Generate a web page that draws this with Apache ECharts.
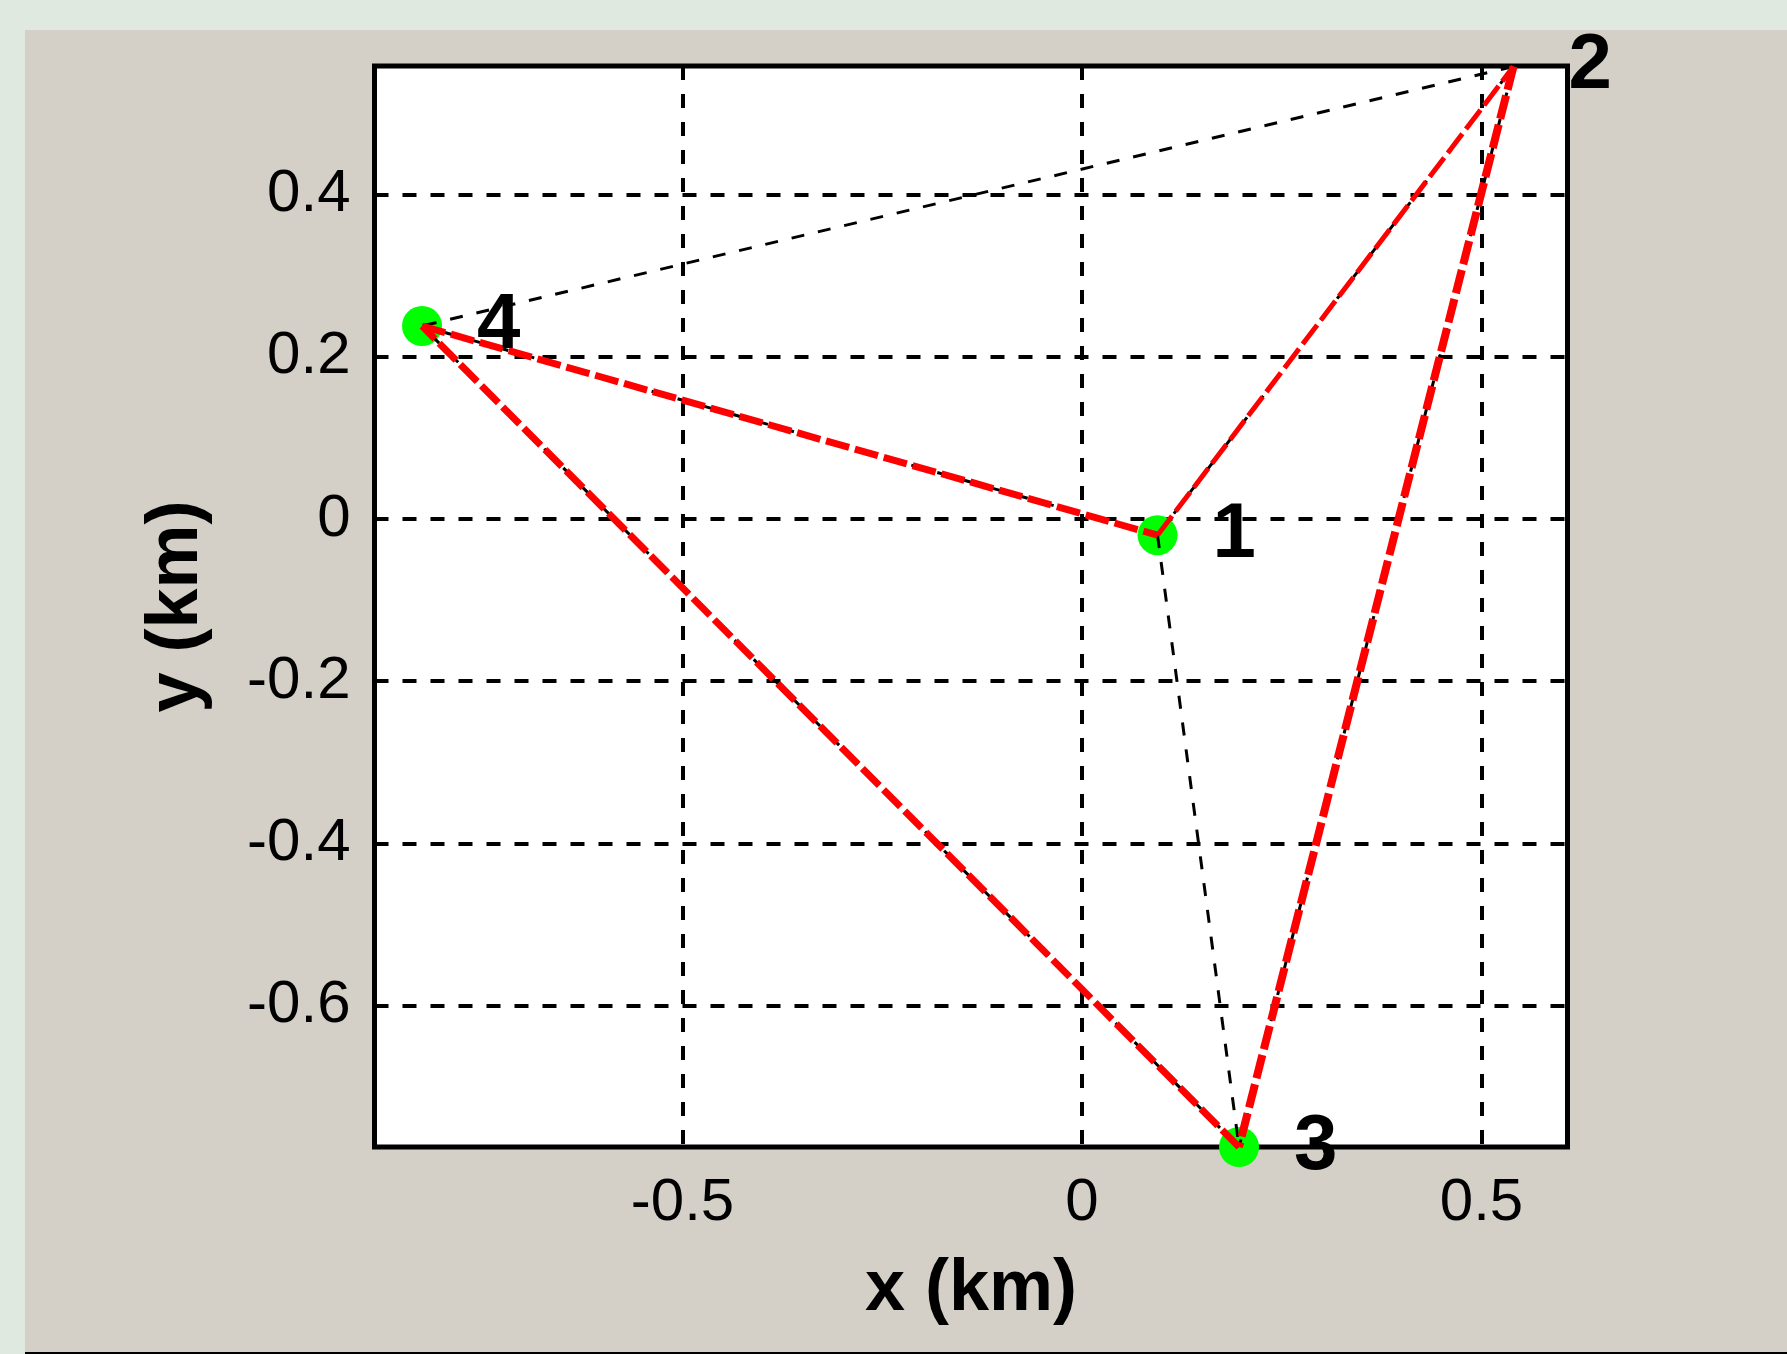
<!DOCTYPE html>
<html>
<head>
<meta charset="utf-8">
<script src="https://cdn.jsdelivr.net/npm/echarts@6/dist/echarts.min.js"></script>
<style>
  html, body { margin: 0; padding: 0; background: #dfe9e0; }
  #chart { width: 1787px; height: 1354px; }
</style>
</head>
<body>
<div id="chart"></div>
<script>
// ---- data ----
const pointNames = ['1', '2', '3', '4'];
const pointX = [0.0945, 0.540, 0.1965, -0.826];
const pointY = [-0.020, 0.558, -0.7744, 0.238];
const markedPoints = [0, 2, 3];               // points drawn with a green marker
const allEdges = [[0, 1], [0, 2], [0, 3], [1, 2], [1, 3], [2, 3]];
const redEdges = [[3, 0], [0, 1], [1, 2], [2, 3]];
const xTicks = [-0.5, 0, 0.5];
const yTicks = [-0.6, -0.4, -0.2, 0, 0.2, 0.4];
const xRange = [-0.8855, 0.6076];
const yRange = [-0.7744, 0.5586];
const xTitle = 'x (km)';
const yTitle = 'y (km)';

// ---- chart ----
const FONT = '"Liberation Sans", Arial, sans-serif';
const chart = echarts.init(document.getElementById('chart'), null, { renderer: 'canvas' });

function tickFormatter(ticks) {
  return function (v) {
    for (const t of ticks) if (Math.abs(t - v) < 1e-9) return String(t);
    return '';
  };
}

// line widths per red edge (4-1, 1-2, 2-3, 3-4)
const redWidth = { '3-0': 7, '0-1': 5, '1-2': 8, '2-3': 7 };

const series = [];
series.push({
  type: 'scatter',
  clip: false,
  symbol: 'circle',
  symbolSize: 40,
  itemStyle: { color: '#00ff00', opacity: 1 },
  data: markedPoints.map(i => [pointX[i], pointY[i]]),
  z: 2
});
allEdges.forEach(e => {
  series.push({
    type: 'line',
    clip: true,
    symbol: 'none',
    lineStyle: { color: '#000', width: 3, type: [13, 14] },
    data: [[pointX[e[0]], pointY[e[0]]], [pointX[e[1]], pointY[e[1]]]],
    z: 3
  });
});
redEdges.forEach(e => {
  series.push({
    type: 'line',
    clip: true,
    symbol: 'none',
    lineStyle: { color: '#ff0000', width: redWidth[e[0] + '-' + e[1]], type: [24, 6] },
    data: [[pointX[e[0]], pointY[e[0]]], [pointX[e[1]], pointY[e[1]]]],
    z: 4
  });
});
series.push({
  type: 'scatter',
  clip: false,
  symbol: 'circle',
  symbolSize: 0,
  itemStyle: { color: '#000000', opacity: 1 },
  label: {
    show: true,
    position: 'right',
    distance: 55,
    formatter: '{b}',
    color: '#000000',
    opacity: 1,
    textBorderWidth: 0,
    fontFamily: FONT,
    fontWeight: 'bold',
    fontSize: 78
  },
  data: pointNames.map((n, i) => ({ name: n, value: [pointX[i], pointY[i]] })),
  z: 5
});

const option = {
  backgroundColor: '#dfe9e0',
  animation: false,
  graphic: [
    { type: 'rect', z: -10, shape: { x: 25, y: 30, width: 1762, height: 1324 }, style: { fill: '#d4d0c8' } },
    { type: 'rect', z: -9, shape: { x: 25, y: 1352, width: 1762, height: 2 }, style: { fill: '#000' } }
  ],
  grid: {
    left: 374.5, top: 66, right: 219.5, bottom: 207,
    show: true, backgroundColor: '#ffffff', borderColor: '#000', borderWidth: 5
  },
  xAxis: {
    type: 'value',
    min: xRange[0], max: xRange[1],
    minInterval: 0.5, maxInterval: 0.5,
    axisLine: { show: false },
    axisTick: { show: false },
    axisLabel: {
      margin: 26, color: '#000', fontFamily: FONT, fontSize: 60,
      showMinLabel: false, showMaxLabel: false,
      formatter: tickFormatter(xTicks)
    },
    splitLine: { show: true, lineStyle: { color: '#000', width: 4, type: [14, 14] } },
    name: xTitle,
    nameLocation: 'middle',
    nameGap: 107,
    nameTextStyle: { color: '#000', fontFamily: FONT, fontWeight: 'bold', fontSize: 72 }
  },
  yAxis: {
    type: 'value',
    min: yRange[0], max: yRange[1],
    minInterval: 0.2, maxInterval: 0.2,
    axisLine: { show: false },
    axisTick: { show: false },
    axisLabel: {
      margin: 24, color: '#000', fontFamily: FONT, fontSize: 60,
      showMinLabel: false, showMaxLabel: false,
      formatter: tickFormatter(yTicks)
    },
    splitLine: { show: true, lineStyle: { color: '#000', width: 4, type: [14, 14] } },
    name: yTitle,
    nameLocation: 'middle',
    nameGap: 161,
    nameRotate: 90,
    nameTextStyle: { color: '#000', fontFamily: FONT, fontWeight: 'bold', fontSize: 72 }
  },
  series: series
};
chart.setOption(option);
</script>
</body>
</html>
